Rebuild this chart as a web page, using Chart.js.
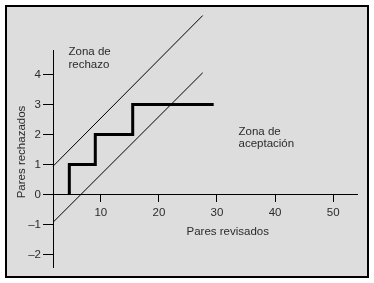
<!DOCTYPE html>
<html><head><meta charset="utf-8">
<script src="https://cdn.jsdelivr.net/npm/chart.js@4/dist/chart.umd.min.js"></script>
<style>html,body{margin:0;padding:0;background:#fff}canvas{display:block}</style>
</head><body>
<canvas id="c" width="374" height="283"></canvas>
<script>
// Data
const stepX = [4.58, 9.05, 15.49, 29.43];   // pares revisados where a new rejected pair occurs (last = end of run)
const stepY = [0, 1, 2, 3];                  // pares rechazados
const upperX = [1.77, 27.54];                // rejection boundary
const upperY = [0.94, 5.97];
const lowerX = [1.77, 27.54];                // acceptance boundary
const lowerY = [-0.93, 4.06];
const xTicks = [10, 20, 30, 40, 50];
const yTicks = [-2, -1, 0, 1, 2, 3, 4];
const xTitle = 'Pares revisados';
const yTitle = 'Pares rechazados';
const zoneReject = ['Zona de', 'rechazo'];
const zoneAccept = ['Zona de', 'aceptación'];

const FONT = '"Liberation Sans", Arial, sans-serif';
const TXT = '#2b2b2b';
const pts = (xs, ys) => xs.map((x, i) => ({x, y: ys[i]}));

const bgPlugin = {
  id: 'bg',
  beforeDraw(chart) {
    const c = chart.ctx;
    c.save();
    c.fillStyle = '#fff';
    c.fillRect(0, 0, chart.width, chart.height);
    c.fillStyle = '#dddddd';
    c.fillRect(6, 6, 362, 271);
    c.strokeStyle = '#000';
    c.lineWidth = 2;
    c.strokeRect(6, 6, 362, 271);
    c.restore();
  }
};

const textPlugin = {
  id: 'texts',
  afterDraw(chart) {
    const c = chart.ctx;
    c.save();
    c.fillStyle = TXT;
    c.font = '11.5px ' + FONT;
    c.textAlign = 'left';
    c.textBaseline = 'alphabetic';
    c.fillText(zoneReject[0], 68.5, 55);
    c.fillText(zoneReject[1], 68.5, 67.5);
    c.fillText(zoneAccept[0], 238.5, 134.5);
    c.fillText(zoneAccept[1], 238.5, 146.5);
    c.fillText(xTitle, 186.5, 234.5);
    c.translate(24.5, 152);
    c.rotate(-Math.PI / 2);
    c.textAlign = 'center';
    c.fillText(yTitle, 0, 0);
    c.restore();
  }
};

new Chart(document.getElementById('c'), {
  type: 'scatter',
  data: {
    datasets: [
      {data: pts(upperX, upperY), showLine: true, borderColor: '#000', borderWidth: 1, pointRadius: 0, clip: false},
      {data: pts(lowerX, lowerY), showLine: true, borderColor: '#000', borderWidth: 1, pointRadius: 0, clip: false},
      {data: pts(stepX, stepY), showLine: true, stepped: 'after', borderColor: '#000', borderWidth: 3, pointRadius: 0, clip: false}
    ]
  },
  options: {
    responsive: false,
    animation: false,
    devicePixelRatio: 1,
    layout: {padding: {left: 0, right: 17, top: 50, bottom: 16}},
    plugins: {legend: {display: false}, tooltip: {enabled: false}},
    scales: {
      x: {
        type: 'linear',
        position: {y: 0},
        min: 1.77, max: 54.1,
        afterBuildTicks: s => { s.ticks = xTicks.map(v => ({value: v})); },
        grid: {drawOnChartArea: false, drawTicks: true, tickLength: 7, color: '#000', lineWidth: 1},
        border: {color: '#000', width: 1},
        ticks: {padding: 4, color: TXT, font: {family: FONT, size: 11.5}, maxRotation: 0, autoSkip: false}
      },
      y: {
        type: 'linear',
        position: 'left',
        min: -2.42, max: 4.82,
        afterBuildTicks: s => { s.ticks = yTicks.map(v => ({value: v})); },
        afterFit: s => { s.width = 53; },
        grid: {drawOnChartArea: false, drawTicks: true, tickLength: 10, color: '#000', lineWidth: 1},
        border: {color: '#000', width: 1},
        ticks: {padding: 2, color: TXT, font: {family: FONT, size: 11.5},
          callback: v => v < 0 ? '\u2013' + Math.abs(v) : String(v)}
      }
    }
  },
  plugins: [bgPlugin, textPlugin]
});
</script>
</body></html>
